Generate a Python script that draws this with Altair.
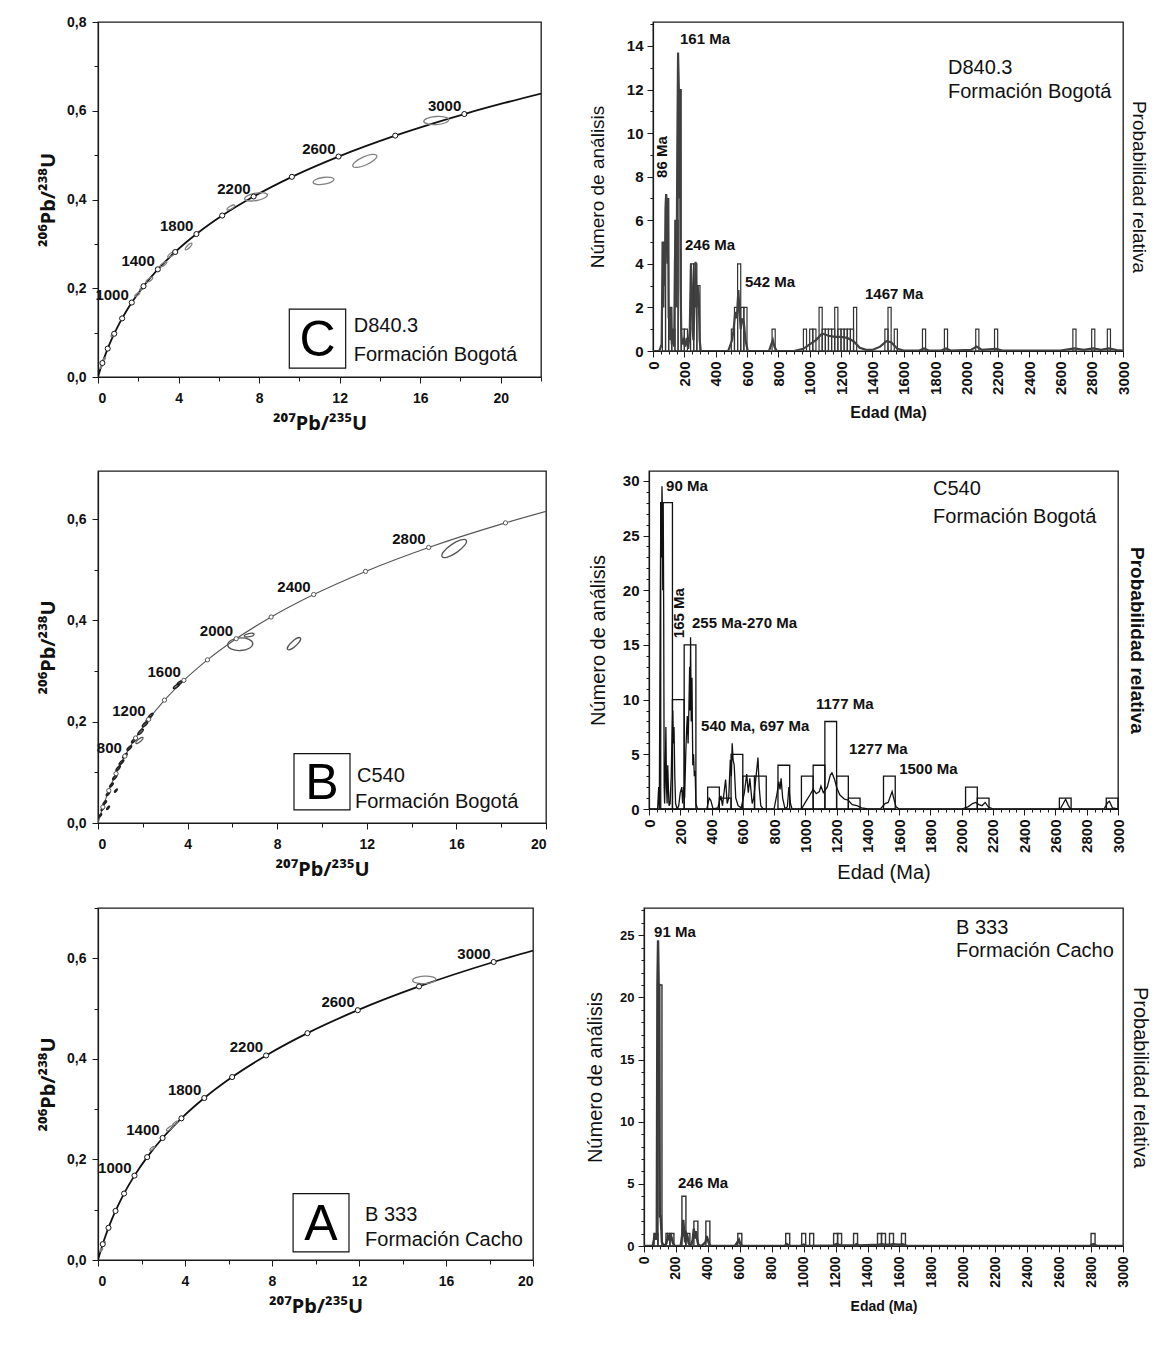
import altair as alt
import pandas as pd

FONT = "Liberation Sans"
TFONT = "Noto Sans"
INK = "#111111"

# ---------------- concordia reference curve (age Ma, 207Pb/235U, 206Pb/238U) ----------------
conc_age = [0, 50, 100, 200, 300, 400, 500, 600, 700, 800, 900, 1000, 1200, 1400,
            1600, 1800, 2000, 2200, 2400, 2600, 2800, 3000, 3100, 3200]
conc_x = [0.0, 0.0505, 0.1035, 0.2177, 0.3438, 0.4828, 0.6363, 0.8056, 0.9926, 1.1988,
          1.4264, 1.6774, 2.2602, 2.9699, 3.8344, 4.8866, 6.1686, 7.7288, 9.6294,
          11.9443, 14.7613, 18.1915, 20.179, 22.3719]
conc_y = [0.0, 0.0078, 0.0156, 0.0315, 0.0476, 0.0640, 0.0807, 0.0975, 0.1147, 0.1321,
          0.1498, 0.1678, 0.2046, 0.2426, 0.2817, 0.3221, 0.3638, 0.4067, 0.4511,
          0.4968, 0.5440, 0.5926, 0.6175, 0.6428]
tick_ages = [200, 400, 600, 800, 1000, 1200, 1400, 1600, 1800, 2000, 2200, 2400, 2600, 2800, 3000]

# ---------------- Panel C : D840.3 ----------------
c_lab_ages = [1000, 1400, 1800, 2200, 2600, 3000]
c_ell_x = [16.8, 13.25, 11.2, 7.85, 4.5, 3.65, 3.25, 2.55, 2.2, 1.95, 6.6, 0.75, 0.3, 0.15]
c_ell_y = [0.578, 0.487, 0.442, 0.406, 0.294, 0.276, 0.254, 0.219, 0.200, 0.186, 0.382, 0.096, 0.040, 0.022]
c_ell_err = [1.25, 1.3, 1.05, 1.15, 0.45, 0.45, 0.4, 0.4, 0.3, 0.3, 0.45, 0.3, 0.2, 0.15]
c_ell_tilt = [4, 24, 8, 10, 45, 35, 35, 35, 35, 35, 30, 50, 50, 50]
c_box = [9.5, 12.3, 0.020, 0.153]
c_letter = "C"
c_sample = ["D840.3", "Formación Bogotá"]
c_sample_x = [12.7, 12.7]
c_sample_y = [0.115, 0.050]

# ---------------- Panel B : C540 ----------------
b_lab_ages = [800, 1200, 1600, 2000, 2400, 2800]
b_ell_x = [15.9, 6.75, 8.75, 1.85]
b_ell_y = [0.542, 0.371, 0.354, 0.163]
b_ell_err = [1.45, 0.5, 0.85, 0.45]
b_ell_tilt = [34, 12, 42, 40]
b_fat_x = [6.35]
b_fat_y = [0.353]
b_fat_err = [1.25]
b_fat_tilt = [3]
b_dark_x = [0.10, 0.2, 0.3, 0.45, 0.6, 0.75, 0.9, 1.05, 1.2, 1.4, 1.6, 1.9, 2.1, 2.25, 2.35, 3.5, 3.65, 0.8, 0.45]
b_dark_y = [0.015, 0.028, 0.04, 0.058, 0.075, 0.09, 0.108, 0.12, 0.133, 0.148, 0.163, 0.18, 0.195, 0.205, 0.212, 0.27, 0.277, 0.064, 0.03]
b_dark_err = [0.2, 0.2, 0.25, 0.25, 0.25, 0.3, 0.3, 0.3, 0.3, 0.3, 0.3, 0.35, 0.35, 0.3, 0.3, 0.35, 0.3, 0.2, 0.2]
b_dark_tilt = [50, 50, 50, 50, 50, 50, 50, 45, 45, 45, 45, 45, 45, 45, 45, 35, 35, 50, 50]
b_box = [8.75, 11.25, 0.026, 0.137]
b_letter = "B"
b_sample = ["C540", "Formación Bogotá"]
b_sample_x = [11.56, 11.47]
b_sample_y = [0.093, 0.042]

# ---------------- Panel A : B 333 ----------------
a_lab_ages = [1000, 1400, 1800, 2200, 2600, 3000]
a_ell_x = [15.0, 3.3, 3.55, 2.5, 0.25, 0.15]
a_ell_y = [0.557, 0.262, 0.272, 0.222, 0.033, 0.02]
a_ell_err = [1.15, 0.4, 0.3, 0.3, 0.25, 0.2]
a_ell_tilt = [3, 35, 35, 35, 50, 50]
a_box = [8.97, 11.54, 0.016, 0.132]
a_letter = "A"
a_sample = ["B 333", "Formación Cacho"]
a_sample_x = [12.28, 12.28]
a_sample_y = [0.09, 0.04]

# ---------------- Histogram C : D840.3 (20 Ma bins) ----------------
hc_start = [60, 80, 100, 120, 140, 160, 180, 200, 240, 260, 280, 500, 520, 540, 560, 580, 760,
            960, 1000, 1020, 1060, 1080, 1100, 1120, 1140, 1160, 1180, 1200, 1220, 1240, 1260,
            1280, 1480, 1500, 1540, 1720, 1860, 2060, 2180, 2680, 2800, 2900]
hc_count = [5, 7, 2, 1, 6, 12, 1, 1, 4, 4, 3, 1, 2, 4, 2, 2, 1,
            1, 1, 1, 2, 1, 1, 1, 1, 2, 1, 1, 1, 1, 1,
            2, 1, 2, 1, 1, 1, 1, 1, 1, 1, 1]
hc_age = [0, 40, 55, 62, 66, 70, 75, 80, 84, 88, 92, 96, 100, 104, 110, 115, 120, 128, 135, 140,
          145, 150, 155, 160, 165, 168, 172, 176, 180, 185, 195, 205, 215, 225, 235, 242, 248,
          252, 258, 265, 272, 278, 285, 292, 298, 305, 480, 505, 515, 525, 535, 545, 552, 560,
          570, 580, 590, 605, 740, 755, 765, 775, 790, 900, 960, 1000, 1040, 1080, 1120, 1160,
          1200, 1240, 1280, 1320, 1360, 1400, 1450, 1490, 1520, 1560, 1600, 1700, 1730, 1760,
          1840, 1870, 1900, 2030, 2065, 2100, 2190, 2230, 2600, 2690, 2750, 2810, 2860, 2910, 2960, 3000]
hc_prob = [0, 0, 0.3, 5, 2, 5, 3, 6.5, 7.2, 6.8, 4, 7, 1.5, 2, 0.5, 2, 0.3, 1, 0.2, 4,
           6, 2, 9, 13.7, 12, 7, 12, 3, 1, 0.3, 0.5, 0.2, 0.6, 0.1, 1, 4, 3,
           1, 0.5, 2, 4.1, 2, 3, 2.5, 0.5, 0, 0, 0.5, 1, 1.8, 1.5, 2.8, 1.8, 1,
           1.5, 1.3, 0.5, 0, 0, 0.3, 0.5, 0.2, 0, 0, 0.1, 0.3, 0.5, 0.8, 0.7, 0.65,
           0.65, 0.6, 0.45, 0.15, 0.05, 0.05, 0.2, 0.45, 0.4, 0.1, 0.02, 0.02, 0.12, 0.02,
           0.02, 0.12, 0.02, 0.05, 0.2, 0.05, 0.1, 0.02, 0.02, 0.12, 0.05, 0.12, 0.05, 0.12, 0.04, 0.02]
hc_ann = ["161 Ma", "246 Ma", "542 Ma", "1467 Ma"]
hc_ann_x = [172, 204, 587, 1353]
hc_ann_y = [14.3, 4.86, 3.17, 2.6]
hc_rot = ["86 Ma"]
hc_rot_x = [57]
hc_rot_y = [8.9]
hc_sample = ["D840.3", "Formación Bogotá"]
hc_sample_x = [1883, 1883]
hc_sample_y = [13.0, 11.9]

# ---------------- Histogram B : C540 (75 Ma bins) ----------------
hb_start = [75, 150, 225, 375, 450, 525, 600, 675, 825, 975, 1050, 1125, 1200, 1275, 1500,
            2025, 2100, 2625, 2925]
hb_count = [28, 10, 15, 2, 1, 5, 3, 3, 4, 3, 4, 8, 3, 1, 3, 2, 1, 1, 1]
hb_age = [0, 55, 62, 66, 72, 76, 80, 83, 86, 88, 91, 94, 97, 100, 104, 108, 112, 116, 120, 124,
          128, 135, 142, 148, 152, 156, 160, 165, 170, 180, 190, 200, 210, 215, 222, 228, 235,
          240, 245, 250, 255, 260, 263, 266, 270, 275, 280, 285, 290, 295, 300, 310, 370, 385,
          395, 410, 440, 460, 470, 490, 500, 510, 520, 527, 532, 538, 545, 555, 570, 590, 610,
          625, 635, 645, 660, 670, 685, 697, 705, 715, 730, 800, 820, 830, 838, 845, 855, 870,
          885, 895, 905, 915, 975, 1000, 1030, 1050, 1070, 1090, 1100, 1115, 1140, 1160, 1170,
          1185, 1200, 1220, 1250, 1275, 1300, 1330, 1360, 1400, 1480, 1510, 1530, 1545, 1555,
          1565, 1580, 1600, 2000, 2040, 2070, 2090, 2110, 2130, 2150, 2170, 2200, 2630, 2650,
          2665, 2680, 2695, 2910, 2935, 2945, 2965, 3000]
hb_prob = [0, 0, 2, 0, 19, 28, 23, 29.5, 27, 20, 28, 18, 2, 0.5, 3, 7.5, 2, 0.5, 4, 2,
           0.3, 0.5, 3, 7, 9, 6, 7.5, 3, 0.5, 0, 0.3, 1.5, 2, 0.5, 2, 1, 5,
           7, 8.5, 6, 9, 13, 9, 15.7, 8, 12, 4, 5, 3, 3.5, 0.5, 0, 0, 1,
           0.8, 0, 0.1, 1.2, 0.3, 2.7, 0.5, 1, 4.5, 3, 6, 4.5, 4, 1, 0.3, 0.1, 1.5,
           3.2, 1.5, 2.8, 0.5, 1, 3, 4.7, 2, 0.3, 0, 0, 1.5, 2.5, 1.8, 2.8, 1, 0,
           0.2, 2, 0.5, 0, 0, 0.6, 1.3, 1.8, 1.4, 1.6, 2.1, 1.5, 2, 3.1, 3.3,
           2.8, 2, 1.3, 0.9, 0.8, 0.4, 0.3, 0.1, 0, 0, 0.5, 0.6, 1.2, 1.6,
           1, 0.2, 0, 0, 0.2, 0.5, 0.6, 0.4, 0.3, 0.6, 0.2, 0, 0, 0.5,
           0.9, 0.4, 0, 0, 0.6, 0.7, 0.1, 0]
hb_ann = ["90 Ma", "255 Ma-270 Ma", "540 Ma, 697 Ma", "1177 Ma", "1277 Ma", "1500 Ma"]
hb_ann_x = [109, 275, 333, 1068, 1280, 1600]
hb_ann_y = [29.5, 17.0, 7.6, 9.6, 5.5, 3.66]
hb_rot = ["165 Ma"]
hb_rot_x = [192]
hb_rot_y = [17.9]
hb_sample = ["C540", "Formación Bogotá"]
hb_sample_x = [1817, 1817]
hb_sample_y = [29.3, 26.7]

# ---------------- Histogram A : B 333 (25 Ma bins) ----------------
ha_start = [62.5, 87.5, 137.5, 162.5, 237.5, 262.5, 312.5, 387.5, 587.5, 887.5, 987.5, 1037.5,
            1187.5, 1212.5, 1312.5, 1462.5, 1487.5, 1537.5, 1612.5, 2800]
ha_count = [1, 21, 1, 1, 4, 1, 2, 2, 1, 1, 1, 1, 1, 1, 1, 1, 1, 1, 1, 1]
ha_age = [0, 55, 62, 68, 74, 80, 84, 88, 92, 96, 99, 104, 108, 112, 125, 140, 150, 160, 170,
          180, 190, 230, 240, 246, 252, 258, 265, 272, 280, 295, 305, 312, 318, 325, 332, 340,
          360, 385, 393, 400, 410, 420, 570, 585, 595, 605, 620, 880, 895, 910, 980, 1000, 1020,
          1190, 1205, 1220, 1240, 1320, 1330, 1345, 1470, 1490, 1510, 1545, 1555, 1600, 1620,
          1650, 2790, 2815, 2840, 3000]
ha_prob = [0, 0, 0.5, 1, 0.5, 1, 21, 24.6, 21, 21, 2.4, 2.4, 1.5, 0.3, 0, 0.2, 0.8, 0.5, 0.8,
           0.3, 0, 0, 1, 2.1, 1, 0.3, 1, 0.8, 0.2, 0, 0.5, 1.4, 0.6, 1.2, 0.6, 0.1,
           0, 0.3, 0.8, 0.5, 0.1, 0, 0, 0.3, 0.5, 0.1, 0, 0, 0.15, 0, 0, 0.12, 0,
           0.05, 0.15, 0.1, 0.05, 0.05, 0.15, 0.05, 0.1, 0.15, 0.1, 0.1, 0.15, 0.1, 0.15,
           0, 0, 0.15, 0, 0]
ha_ann = ["91 Ma", "246 Ma"]
ha_ann_x = [63, 213]
ha_ann_y = [25.3, 5.06]
ha_rot = []
ha_rot_x = []
ha_rot_y = []
ha_sample = ["B 333", "Formación Cacho"]
ha_sample_x = [1954, 1954]
ha_sample_y = [25.6, 23.7]

ELL = "M-1,0A1,0.32,0,1,1,1,0A1,0.32,0,1,1,-1,0Z"
ELL_FAT = "M-1,0A1,0.5,0,1,1,1,0A1,0.5,0,1,1,-1,0Z"

X_TITLE = "\u00b2\u2070\u2077Pb/\u00b2\u00b3\u2075U"
Y_TITLE = "\u00b2\u2070\u2076Pb/\u00b2\u00b3\u2078U"


def conc_panel(xmax, ymax, w, h, lab_ages, ells, fats, darks, box, letter, sample, st):
    ppu = w / xmax
    base = pd.DataFrame({"age": conc_age, "x": conc_x, "y": conc_y})
    xs = alt.Scale(domain=[0, xmax], nice=False, zero=True)
    ys = alt.Scale(domain=[0, ymax], nice=False, zero=True)
    xaxis = alt.Axis(
        values=list(range(0, xmax + 1, 2)),
        labelExpr="datum.value % 4 === 0 ? format(datum.value, 'd') : ''",
        tickSize={"condition": {"test": "datum.value % 4 === 0", "value": 6}, "value": 4},
        title=X_TITLE, titleFont=TFONT, titleFontSize=20, titleFontWeight="bold", titlePadding=8,
        labelFontSize=14, labelFontWeight="bold", labelPadding=8, grid=False,
    )
    yvals = [round(0.1 * i, 1) for i in range(int(round(ymax * 10)) + 1)]
    yaxis = alt.Axis(
        values=yvals,
        labelExpr="round(datum.value * 10) % 2 === 0 ? replace(format(datum.value, '.1f'), '.', ',') : ''",
        tickSize={"condition": {"test": "round(datum.value * 10) % 2 === 0", "value": 6}, "value": 4},
        title=Y_TITLE, titleFont=TFONT, titleFontSize=20, titleFontWeight="bold", titlePadding=8,
        labelFontSize=14, labelFontWeight="bold", labelPadding=6, grid=False,
    )

    def X(f):
        return alt.X(f, scale=xs, axis=xaxis)

    def Y(f):
        return alt.Y(f, scale=ys, axis=yaxis)

    line = alt.Chart(base).transform_filter(f"datum.x <= {xmax + 0.5}").mark_line(
        color=st["line"], strokeWidth=st["lw"], interpolate="monotone", clip=True
    ).encode(x=X("x:Q"), y=Y("y:Q"), order="age:Q")

    size_scale = alt.Scale(type="pow", exponent=2, domain=[0, 2], range=[0, (2 * ppu) ** 2])

    def ell_layer(xv, yv, ev, tv, shape, color, sw):
        df = pd.DataFrame({"x": xv, "y": yv, "err": ev, "tilt": tv})
        return alt.Chart(df).transform_calculate(rot="(360 - datum.tilt) % 360").mark_point(
            shape=shape, filled=False, color=color, strokeWidth=sw, opacity=1
        ).encode(
            x=X("x:Q"), y=Y("y:Q"),
            size=alt.Size("err:Q", scale=size_scale, legend=None),
            angle=alt.Angle("rot:Q", scale=None),
        )

    layers = [line]
    layers.append(ell_layer(*ells, ELL, st["ell"], 1.3))
    if fats:
        layers.append(ell_layer(*fats, ELL_FAT, st["ell"], 1.3))
    if darks:
        layers.append(ell_layer(*darks, ELL, "#222222", 1.6))

    circ = alt.Chart(base).transform_filter(
        alt.FieldOneOfPredicate(field="age", oneOf=tick_ages)
    ).transform_filter(f"datum.x <= {xmax}").mark_point(
        shape="circle", filled=True, fill="white", stroke=st["line"], strokeWidth=1, size=st["csize"], opacity=1
    ).encode(x=X("x:Q"), y=Y("y:Q"))
    layers.append(circ)

    labs = alt.Chart(base).transform_filter(
        alt.FieldOneOfPredicate(field="age", oneOf=lab_ages)
    ).mark_text(align="right", baseline="middle", dx=-3, dy=-8, font=FONT, fontSize=15,
                fontWeight="bold", color=INK).encode(
        x=X("x:Q"), y=Y("y:Q"), text=alt.Text("age:Q", format="d"))
    layers.append(labs)

    bdf = pd.DataFrame({"x0": [box[0]], "x1": [box[1]], "y0": [box[2]], "y1": [box[3]], "t": [letter]})
    layers.append(alt.Chart(bdf).mark_rect(fill="white", stroke="#111", strokeWidth=1.2).encode(
        x=X("x0:Q"), x2="x1:Q", y=Y("y0:Q"), y2="y1:Q"))
    layers.append(alt.Chart(bdf).transform_calculate(
        cx="(datum.x0 + datum.x1) / 2", cy="(datum.y0 + datum.y1) / 2"
    ).mark_text(font=FONT, fontSize=50, color="#000", baseline="middle", align="center", dy=2).encode(
        x=X("cx:Q"), y=Y("cy:Q"), text="t:N"))

    sdf = pd.DataFrame({"t": sample[0], "x": sample[1], "y": sample[2]})
    layers.append(alt.Chart(sdf).mark_text(font=FONT, fontSize=20, align="left", baseline="middle",
                                           color=INK, fontWeight=st["sw"]).encode(
        x=X("x:Q"), y=Y("y:Q"), text="t:N"))

    return alt.layer(*layers).properties(width=w, height=h)


def hist_panel(starts, counts, bw, c_age, c_val, ymax, ymaj, w, h, ann, rot, sample, st):
    xs = alt.Scale(domain=[0, 3000], nice=False, zero=True)
    ys = alt.Scale(domain=[0, ymax], nice=False, zero=True)
    xaxis = alt.Axis(
        values=list(range(0, 3001, 50)),
        labelExpr="datum.value % 200 === 0 ? format(datum.value, 'd') : ''",
        labelAngle=270, labelFontSize=st["xl"], labelFontWeight="bold", labelPadding=4,
        tickSize={"condition": {"test": "datum.value % 200 === 0", "value": 6}, "value": 3},
        title="Edad (Ma)", titleFontSize=st["xt"], titleFontWeight=st["xtw"], titlePadding=st["xtp"], grid=False,
    )
    yaxis = alt.Axis(
        values=list(range(0, int(ymax) + 1)),
        labelExpr=f"datum.value % {ymaj} === 0 ? format(datum.value, 'd') : ''",
        labelFontSize=st["yl"], labelFontWeight="bold", labelPadding=4,
        tickSize={"condition": {"test": f"datum.value % {ymaj} === 0", "value": 6}, "value": 3},
        title="Número de análisis", titleFontSize=st["yt"], titleFontWeight="normal",
        titlePadding=st["ytp"], grid=False,
    )

    def X(f):
        return alt.X(f, scale=xs, axis=xaxis)

    bdf = pd.DataFrame({"start": starts, "n": counts})
    bars = alt.Chart(bdf).transform_calculate(end=f"datum.start + {bw}").mark_rect(
        fill="white", fillOpacity=0, stroke=st["bar"], strokeWidth=st["bsw"]
    ).encode(x=X("start:Q"), x2="end:Q",
             y=alt.Y("n:Q", scale=ys, axis=yaxis), y2=alt.datum(0))
    cdf = pd.DataFrame({"age": c_age, "p": c_val})
    curve = alt.Chart(cdf).mark_line(color=st["curve"], strokeWidth=st["cw"], clip=True).encode(
        x=X("age:Q"),
        y=alt.Y("p:Q", scale=ys, axis=alt.Axis(
            orient="right", title="Probabilidad relativa", labels=False, ticks=False, domain=False,
            titleAngle=90, titleFontSize=st["rt"], titleFontWeight=st["rtw"], titlePadding=st["rtp"], grid=False)),
        order="age:Q")
    layers = [bars, curve]
    adf = pd.DataFrame({"t": ann[0], "x": ann[1], "y": ann[2]})
    layers.append(alt.Chart(adf).mark_text(font=FONT, fontSize=st["an"], fontWeight="bold", align="left",
                                           baseline="middle", color=INK).encode(
        x=X("x:Q"), y=alt.Y("y:Q", scale=ys, axis=None), text="t:N"))
    if rot[0]:
        rdf = pd.DataFrame({"t": rot[0], "x": rot[1], "y": rot[2]})
        layers.append(alt.Chart(rdf).mark_text(font=FONT, fontSize=st["an"], fontWeight="bold", align="center",
                                               baseline="middle", angle=270, color=INK).encode(
            x=X("x:Q"), y=alt.Y("y:Q", scale=ys, axis=None), text="t:N"))
    sdf = pd.DataFrame({"t": sample[0], "x": sample[1], "y": sample[2]})
    layers.append(alt.Chart(sdf).mark_text(font=FONT, fontSize=20, align="left", baseline="middle",
                                           color=INK).encode(
        x=X("x:Q"), y=alt.Y("y:Q", scale=ys, axis=None), text="t:N"))
    return alt.layer(*layers).resolve_axis(y="independent").properties(width=w, height=h)


conc_st_dark = {"line": "#111111", "lw": 1.8, "ell": "#808080", "csize": 26, "sw": "normal"}
conc_st_gray = {"line": "#555555", "lw": 1.1, "ell": "#555555", "csize": 18, "sw": "normal"}

concC = conc_panel(22, 0.8, 443, 355, c_lab_ages,
                   (c_ell_x, c_ell_y, c_ell_err, c_ell_tilt), None, None,
                   c_box, c_letter, (c_sample, c_sample_x, c_sample_y), conc_st_dark)
concB = conc_panel(20, 0.695, 448, 352, b_lab_ages,
                   (b_ell_x, b_ell_y, b_ell_err, b_ell_tilt), (b_fat_x, b_fat_y, b_fat_err, b_fat_tilt),
                   (b_dark_x, b_dark_y, b_dark_err, b_dark_tilt),
                   b_box, b_letter, (b_sample, b_sample_x, b_sample_y), conc_st_gray)
concA = conc_panel(20, 0.7, 435, 352, a_lab_ages,
                   (a_ell_x, a_ell_y, a_ell_err, a_ell_tilt), None, None,
                   a_box, a_letter, (a_sample, a_sample_x, a_sample_y), conc_st_dark)

hist_st_C = {"xl": 15, "xt": 16, "xtw": "bold", "xtp": 10, "yl": 15, "yt": 19, "ytp": 19,
             "rt": 19, "rtw": "normal", "rtp": 5, "an": 15, "bar": "#333333", "bsw": 1.2,
             "curve": "#404040", "cw": 2.2}
hist_st_B = {"xl": 15, "xt": 20, "xtw": "normal", "xtp": 10, "yl": 15, "yt": 20, "ytp": 14,
             "rt": 19, "rtw": "bold", "rtp": 8, "an": 15, "bar": "#111111", "bsw": 1.3,
             "curve": "#111111", "cw": 1.3}
hist_st_A = {"xl": 14, "xt": 14, "xtw": "bold", "xtp": 12, "yl": 13, "yt": 20, "ytp": 14,
             "rt": 20, "rtw": "normal", "rtp": 6, "an": 15, "bar": "#333333", "bsw": 1.4,
             "curve": "#3a3a3a", "cw": 2.4}

histC = hist_panel(hc_start, hc_count, 20, hc_age, hc_prob, 15.1, 2, 470, 329,
                   (hc_ann, hc_ann_x, hc_ann_y), (hc_rot, hc_rot_x, hc_rot_y),
                   (hc_sample, hc_sample_x, hc_sample_y), hist_st_C)
histB = hist_panel(hb_start, hb_count, 75, hb_age, hb_prob, 30.9, 5, 469, 338,
                   (hb_ann, hb_ann_x, hb_ann_y), (hb_rot, hb_rot_x, hb_rot_y),
                   (hb_sample, hb_sample_x, hb_sample_y), hist_st_B)
histA = hist_panel(ha_start, ha_count, 25, ha_age, ha_prob, 27.2, 5, 479, 338,
                   (ha_ann, ha_ann_x, ha_ann_y), (ha_rot, ha_rot_x, ha_rot_y),
                   (ha_sample, ha_sample_x, ha_sample_y), hist_st_A)

row1 = alt.hconcat(concC, histC, spacing=44)
row2 = alt.hconcat(concB, histB, spacing=39)
row3 = alt.hconcat(concA, histA, spacing=49)

chart = alt.vconcat(alt.vconcat(row1, row2, spacing=36), row3, spacing=22).properties(
    padding={"left": 29, "top": 6, "right": 5, "bottom": 5}
).configure(font=FONT).configure_view(stroke="#1a1a1a", strokeWidth=1.3).configure_axis(
    domainColor="#1a1a1a", tickColor="#1a1a1a", labelColor=INK, titleColor=INK,
    labelFont=FONT, titleFont=FONT, grid=False, domainWidth=1.2
)

chart.save("out.html", embed_options={"renderer": "svg", "actions": False})
